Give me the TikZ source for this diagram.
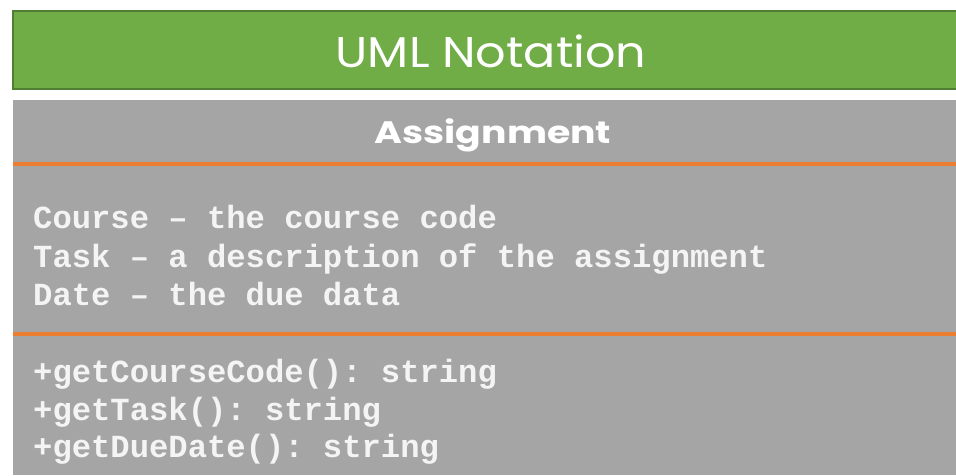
\documentclass[tikz,border=0pt]{standalone}
\usepackage{fontspec}
\setmainfont{Poppins}
\setmonofont{Liberation Mono}
\newfontfamily\titlefont[FakeStretch=1.11]{Poppins}
\newfontfamily\namefont[FakeStretch=1.22]{Poppins}
\usetikzlibrary{positioning}

\definecolor{header green}{HTML}{70AD47}
\definecolor{header edge}{HTML}{507E32}
\definecolor{class area}{HTML}{A5A5A5}
\definecolor{rule orange}{HTML}{ED7D31}
\definecolor{class text}{HTML}{F4F4F4}
\tikzset{
  header/.style={fill=header green, draw=header edge, line width=2pt},
  classbox/.style={fill=class area},
  divider/.style={draw=rule orange, line width=4pt}
  }
\tikzstyle{title} = [text=white, inner sep=0pt, font=\titlefont\fontsize{43}{43}\selectfont]
\tikzstyle{class name} = [text=white, inner sep=0pt, font=\namefont\fontsize{31}{31}\selectfont\bfseries]
\tikzstyle{member} = [text=class text, anchor=base west, inner sep=0pt, font=\fontsize{32.2}{32.2}\selectfont\ttfamily\bfseries]
\def\attributes{{228/Course – the course code}, {267/Task – a description of the assignment}, {305/Date – the due data}}
\def\methods{{382/+getCourseCode(): string}, {420/+getTask(): string}, {457/+getDueDate(): string}}

\begin{document}
\begin{tikzpicture}[x=1pt, y=-1pt]
    \useasboundingbox (0,0) rectangle (956,475);

    % The green header bar and the class box
    \path[header] (13,11) rectangle (960,89);
    \fill[classbox] (13,100) rectangle (956,475);

    % Compartment dividers
    \coordinate (top left) at (13,164);
    \coordinate (top right) at (956,164);
    \coordinate (bottom left) at (13,334);
    \coordinate (bottom right) at (956,334);
    \path[divider] (top left) -- (top right);
    \path[divider] (bottom left) -- (bottom right);

    % Headings
    \node[title, anchor=base] (heading) at (491,67) {UML Notation};
    \node[class name, anchor=base] (classname) at (493,143) {Assignment};

    % Attributes, then operations
    \foreach \y/\txt [count=\i] in \attributes
      \node[member] (attr\i) at (33,\y) {\txt};
    \foreach \y/\txt [count=\i] in \methods
      \node[member] (op\i) at (33,\y) {\txt};
\end{tikzpicture}
\end{document}
